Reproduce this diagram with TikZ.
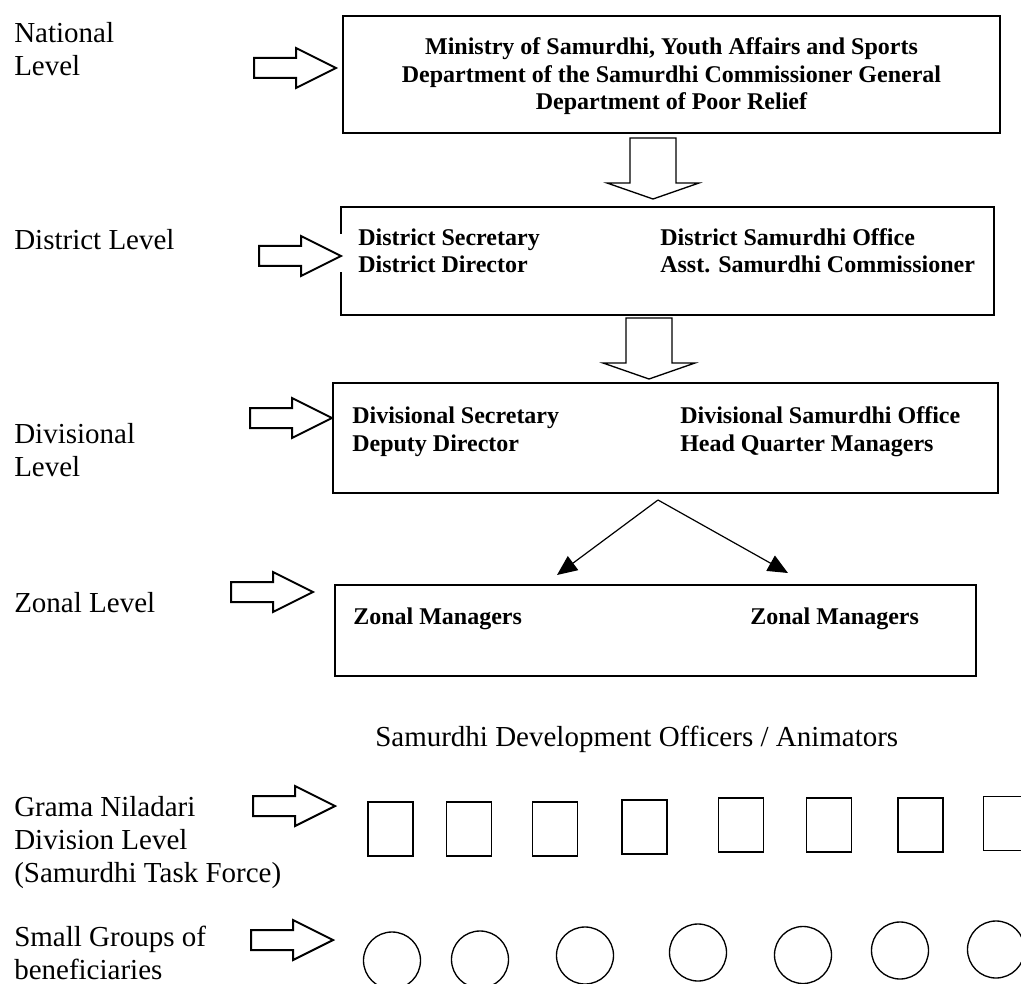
\documentclass[tikz,border=0pt]{standalone}
\usepackage{fontspec}
\setmainfont{Liberation Serif}
\usetikzlibrary{arrows.meta,fit}
\begin{document}
\begin{tikzpicture}[x=0.75pt,y=-0.75pt,
  box/.style={draw,line width=1.5pt,inner sep=0pt},
  lbl/.style={anchor=base west,align=left,inner sep=0pt,font=\fontsize{21.75}{24.75}\selectfont},
  btxt/.style={anchor=base west,align=left,inner sep=0pt,font=\fontsize{18}{20.7}\selectfont\bfseries},
  sq/.style={draw,line width=1pt,minimum width=33.75pt,minimum height=40.5pt,inner sep=0pt},
  circ/.style={draw,circle,line width=1pt,minimum size=42.75pt,inner sep=0pt},
  blk/.style={draw,fill=white,line width=1.5pt,line join=miter},
  rarrow/.pic={\draw[blk] (-82,-10) -- (-40,-10) -- (-40,-20) -- (0,0) -- (-40,20) -- (-40,10) -- (-82,10) -- cycle;},
  darrow/.pic={\draw[blk,line width=1pt] (-23,-61) -- (23,-61) -- (23,-16) -- (46,-16) -- (0,0) -- (-46,-16) -- (-23,-16) -- cycle;},
  conn/.style={line width=0.9pt,-{Triangle[length=15pt,width=13pt]}}
]
\useasboundingbox (0,0) rectangle (1021,984);
\clip (0,0) rectangle (1021,984);

% level labels (multi-line nodes are placed at the baseline of their last line)
\node[lbl] (nat) at (14,76) {National\\Level};
\node[lbl] (dist) at (14,250) {District Level};
\node[lbl] (div) at (14,476) {Divisional\\Level};
\node[lbl] (zon) at (14,612) {Zonal Level};
\node[lbl] (sdo) at (375,746) {Samurdhi Development Officers / Animators};
\node[lbl] (gn) at (14,882) {Grama Niladari\\Division Level\\(Samurdhi Task Force)};
\node[lbl] (sg) at (14,979) {Small Groups of\\beneficiaries};

% boxes
\node[box,fit={(343,16)(1000,133)}] (b1) {};
\node[btxt,anchor=base,align=center] (b1t) at (671.5,110) {Ministry of Samurdhi, Youth Affairs and Sports\\Department of the Samurdhi Commissioner General\\Department of Poor Relief};

\node[box,fit={(341,207)(994,315)}] (b2) {};
\node[btxt] (b2l) at (358,273) {District Secretary\\District Director};
\node[btxt] (b2r) at (660,273) {District Samurdhi Office\\Asst. Samurdhi Commissioner};

\node[box,fit={(333,383)(998,493)}] (b3) {};
\node[btxt] (b3l) at (352,451) {Divisional Secretary\\Deputy Director};
\node[btxt] (b3r) at (680,451) {Divisional Samurdhi Office\\Head Quarter Managers};

\node[box,fit={(335,585)(976,676)}] (b4) {};
\node[btxt] (b4l) at (353,624) {Zonal Managers};
\node[btxt] (b4r) at (750,624) {Zonal Managers};

% gap in district box border behind the arrow
\draw[white,line width=2.2pt] (341,234) -- (341,272);

% block arrows
\pic at (336,68) {rarrow};
\pic at (341,256) {rarrow};
\pic at (332,418) {rarrow};
\pic at (313,592) {rarrow};
\pic at (335,806) {rarrow};
\pic at (333,940) {rarrow};
\pic at (653,199) {darrow};
\pic at (649,379) {darrow};

% split arrows
\coordinate (split) at (658,500);
\coordinate (zl) at (557,575);
\coordinate (zr) at (788,573);
\draw[conn] (split) -- (zl);
\draw[conn] (split) -- (zr);

% task force squares
\node[sq] (s1) at (390.5,829) {};
\node[sq] (s2) at (469,829) {};
\node[sq] (s3) at (555,829) {};
\node[sq] (s4) at (644.5,827) {};
\node[sq] (s5) at (741,825) {};
\node[sq] (s6) at (829,825) {};
\node[sq] (s7) at (920.5,825) {};
\node[sq] (s8) at (1006,823.5) {};

% small groups circles
\node[circ] (c1) at (392,960.5) {};
\node[circ] (c2) at (480,959.5) {};
\node[circ] (c3) at (585,955.5) {};
\node[circ] (c4) at (698,952.5) {};
\node[circ] (c5) at (803,955) {};
\node[circ] (c6) at (900,950.5) {};
\node[circ] (c7) at (996,949.5) {};
\end{tikzpicture}
\end{document}
